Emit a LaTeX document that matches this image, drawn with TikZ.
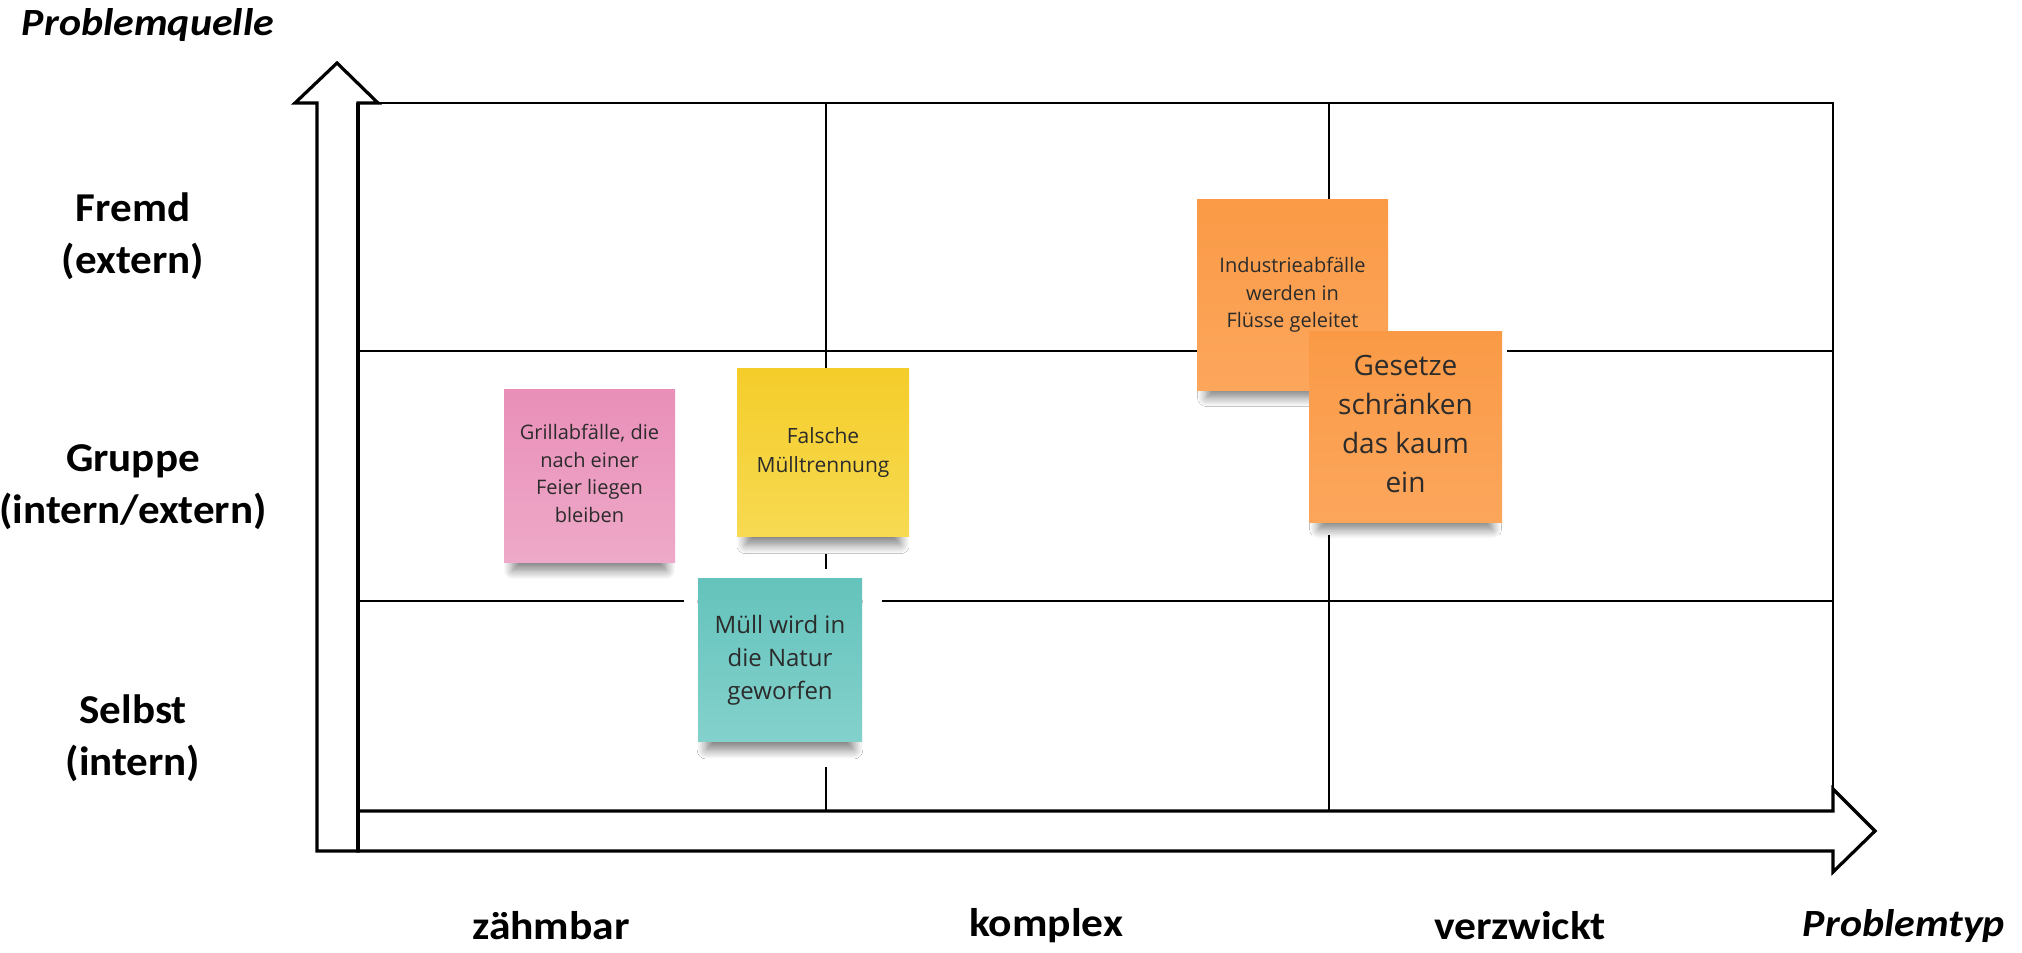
\documentclass[tikz,border=0pt]{standalone}
\usepackage{fontspec}
\setmainfont{Carlito}
\newfontfamily\lblfont[FakeStretch=1.05]{Carlito}
\newfontfamily\colfont[FakeStretch=1.09]{Carlito}
\newfontfamily\notefont{Open Sans}
\usetikzlibrary{shadows.blur}
\definecolor{notetext}{HTML}{2B2B2B}
\definecolor{pinkA}{HTML}{E98FB8}
\definecolor{pinkB}{HTML}{EEA9C8}
\definecolor{yelA}{HTML}{F5CD2A}
\definecolor{yelB}{HTML}{F7DA52}
\definecolor{tealA}{HTML}{64C3BC}
\definecolor{tealB}{HTML}{84D1CC}
\definecolor{oraA}{HTML}{FA9A46}
\definecolor{oraB}{HTML}{FCA65C}
\begin{document}
\begin{tikzpicture}[x=1pt,y=-1pt,
  rowlbl/.style={font=\lblfont\bfseries\fontsize{41}{52}\selectfont, align=center},
  collbl/.style={font=\colfont\bfseries\fontsize{40}{44}\selectfont},
  axlbl/.style={font=\colfont\bfseries\itshape\fontsize{38.5}{44}\selectfont},
  gridline/.style={line width=2.2pt, black},
  arrowline/.style={line width=3.2pt, black, line join=miter},
  note/.style={rectangle, inner sep=0pt, align=center, text=notetext,
    blur shadow={shadow xshift=0pt, shadow yshift=-19pt, shadow scale=0.9,
      shadow blur radius=10pt, shadow blur steps=12, shadow opacity=50}},
  cover/.style={fill=white, draw=none}]
\useasboundingbox (0,0) rectangle (2022,953);

% grid
\draw[gridline] (358,103) rectangle (1833,811);
\draw[gridline] (826,103) -- (826,811);
\draw[gridline] (1329,103) -- (1329,811);
\draw[gridline] (358,351) -- (1833,351);
\draw[gridline] (358,601) -- (1833,601);

% axes arrows
\draw[arrowline, fill=white] (317,851) -- (317,103) -- (295,103) -- (337,63) -- (378,103) -- (358,103) -- (358,851) -- cycle;
\draw[arrowline, fill=white] (358,811) -- (1833,811) -- (1833,789) -- (1875,831) -- (1833,872) -- (1833,851) -- (358,851) -- cycle;
\draw[arrowline] (358,103) -- (358,851);

% covers behind notes
\fill[cover] (737,368) rectangle (909,554);
\fill[cover] (684,569) rectangle (882,767);
\fill[cover] (1197,199) rectangle (1507,535);

% labels
\node[axlbl] (pq) at (148,25) {Problemquelle};
\node[axlbl] (pt) at (1904,926) {Problemtyp};
\node[rowlbl] (fremd) at (133,236) {Fremd\\(extern)};
\node[rowlbl] (gruppe) at (133,487) {Gruppe\\(intern/extern)};
\node[rowlbl] (selbst) at (133,738) {Selbst\\(intern)};
\node[collbl] (zb) at (551,926) {zähmbar};
\node[collbl] (kp) at (1046,926) {komplex};
\node[collbl] (vz) at (1520,926) {verzwickt};

% sticky notes
\node[note, minimum width=171pt, minimum height=173pt, top color=pinkA, bottom color=pinkB,
  font=\notefont\fontsize{20}{27.5}\selectfont] (grill) at (589.5,475.5)
  {\raisebox{4pt}{\begin{tabular}{@{}c@{}}Grillabfälle, die\\nach einer\\Feier liegen\\bleiben\end{tabular}}};
\node[note, minimum width=172pt, minimum height=168pt, top color=yelA, bottom color=yelB,
  font=\notefont\fontsize{21}{29}\selectfont] (falsch) at (823,452)
  {\raisebox{5pt}{\begin{tabular}{@{}c@{}}Falsche\\Mülltrennung\end{tabular}}};
\node[note, minimum width=164pt, minimum height=163pt, top color=tealA, bottom color=tealB,
  font=\notefont\fontsize{24}{33}\selectfont] (muell) at (780,659.5)
  {\raisebox{4pt}{\begin{tabular}{@{}c@{}}Müll wird in\\die Natur\\geworfen\end{tabular}}};
\node[note, minimum width=191pt, minimum height=191pt, top color=oraA, bottom color=oraB,
  font=\notefont\fontsize{20}{27.5}\selectfont] (indus) at (1292.5,294.5)
  {\raisebox{4pt}{\begin{tabular}{@{}c@{}}Industrieabfälle\\werden in\\Flüsse geleitet\end{tabular}}};
\node[note, minimum width=193pt, minimum height=191pt, top color=oraA, bottom color=oraB,
  font=\notefont\fontsize{28}{39}\selectfont] (gesetz) at (1405.5,426.5)
  {\raisebox{5pt}{\begin{tabular}{@{}c@{}}Gesetze\\schränken\\das kaum\\ein\end{tabular}}};
\end{tikzpicture}
\end{document}
